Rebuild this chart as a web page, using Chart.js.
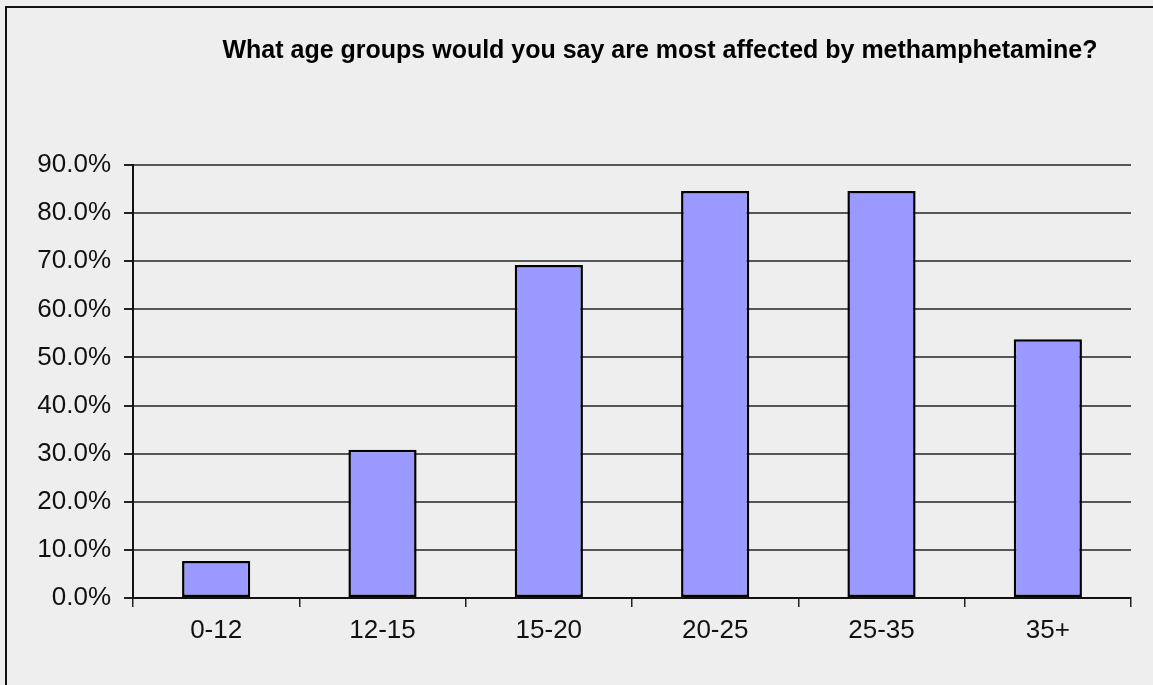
<!DOCTYPE html>
<html>
<head>
<meta charset="utf-8">
<script src="https://cdn.jsdelivr.net/npm/chart.js@4.4.1/dist/chart.umd.min.js"></script>
<style>
  html, body { margin: 0; padding: 0; background: #eeeeee; }
  #wrap { width: 1153px; height: 685px; position: relative; }
</style>
</head>
<body>
<div id="wrap"><canvas id="c" width="1153" height="685"></canvas></div>
<script>
// Survey question and answers
const chartTitle = 'What age groups would you say are most affected by methamphetamine?';
const ageGroups = ['0-12', '12-15', '15-20', '20-25', '25-35', '35+'];
const sharePercent = [7.7, 30.8, 69.2, 84.6, 84.6, 53.8];
const yTicks = [0, 10, 20, 30, 40, 50, 60, 70, 80, 90];

const FONT = '"Liberation Sans", Arial, sans-serif';

// Frame lines along the top and left edges, plus the condensed bold title
const framePlugin = {
  id: 'frame',
  beforeDraw(chart) {
    const ctx = chart.ctx;
    ctx.save();
    ctx.fillStyle = '#eeeeee';
    ctx.fillRect(0, 0, chart.width, chart.height);
    ctx.fillStyle = '#111111';
    ctx.fillRect(5, 6, chart.width - 5, 2);
    ctx.fillRect(5, 6, 2, chart.height - 6);
    ctx.restore();
  },
  afterDraw(chart) {
    const ctx = chart.ctx;
    ctx.save();
    ctx.font = 'bold 25px ' + FONT;
    ctx.fillStyle = '#000000';
    ctx.textBaseline = 'middle';
    const w = ctx.measureText(chartTitle).width;
    const target = 875;
    const cx = 660;
    ctx.translate(cx, 51);
    ctx.scale(target / w, 1);
    ctx.textAlign = 'center';
    ctx.fillText(chartTitle, 0, 0);
    ctx.restore();
  }
};

new Chart(document.getElementById('c'), {
  type: 'bar',
  data: {
    labels: ageGroups,
    datasets: [{
      data: sharePercent,
      backgroundColor: '#9999ff',
      borderColor: '#000000',
      borderWidth: 2.5,
      borderSkipped: false,
      barPercentage: 0.41,
      categoryPercentage: 1.0
    }]
  },
  options: {
    responsive: false,
    animation: false,
    layout: { padding: { left: 0, right: 22, top: 165, bottom: 0 } },
    plugins: {
      legend: { display: false },
      tooltip: { enabled: false }
    },
    scales: {
      x: {
        offset: true,
        grid: {
          offset: true,
          drawOnChartArea: false,
          drawTicks: true,
          tickLength: 9,
          color: '#222222',
          lineWidth: 1.5
        },
        border: { display: true, color: '#111111', width: 2 },
        ticks: {
          color: '#111111',
          font: { family: FONT, size: 26 },
          padding: 8,
          maxRotation: 0
        },
        afterFit(scale) { scale.height = 87; }
      },
      y: {
        min: 0,
        max: 90,
        afterBuildTicks(scale) {
          scale.ticks = yTicks.map(v => ({ value: v }));
        },
        grid: {
          color: '#555555',
          lineWidth: 2,
          drawTicks: true,
          tickLength: 9,
          tickColor: '#222222'
        },
        border: { display: true, color: '#111111', width: 2 },
        ticks: {
          color: '#111111',
          font: { family: FONT, size: 26 },
          padding: 13,
          callback: v => v.toFixed(1) + '%'
        },
        afterFit(scale) { scale.width = 133; }
      }
    }
  },
  plugins: [framePlugin]
});
</script>
</body>
</html>
